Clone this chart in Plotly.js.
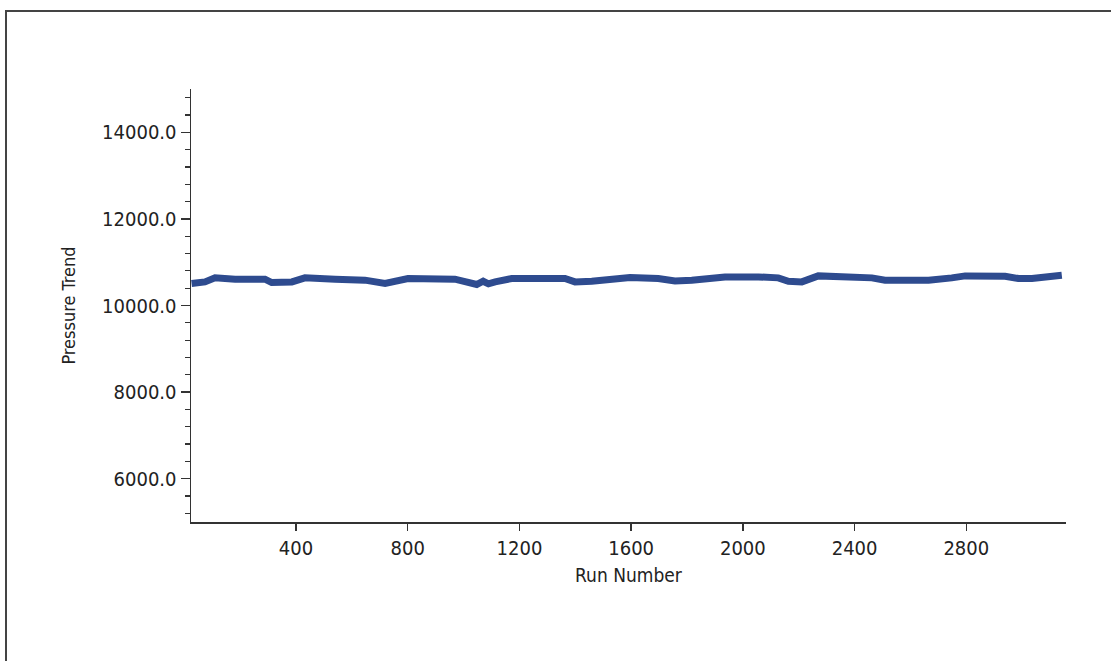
<!DOCTYPE html>
<html>
<head>
<meta charset="utf-8">
<script src="https://cdn.plot.ly/plotly-3.0.1.min.js"></script>
<style>
  html, body { margin: 0; padding: 0; background: #fff; overflow: hidden; }
  #frame { position: absolute; left: 5px; top: 10px; width: 2000px; height: 2000px; border: 2px solid #444; box-sizing: border-box; }
  #chart { position: absolute; left: 0; top: 0; width: 1111px; height: 661px; }
</style>
</head>
<body>
<div id="frame"></div>
<div id="chart"></div>
<script>
// Data
const runs = [26, 74, 110, 182, 289, 313, 385, 432, 540, 647, 719, 765, 801, 969, 1029, 1047, 1070, 1089, 1113, 1172, 1363, 1399, 1459, 1530, 1596, 1697, 1757, 1817, 1889, 1936, 2056, 2127, 2163, 2211, 2270, 2375, 2462, 2509, 2569, 2605, 2653, 2665, 2748, 2796, 2939, 2987, 3035, 3106, 3142];
const pressure = [10508, 10545, 10638, 10608, 10608, 10530, 10545, 10638, 10608, 10585, 10508, 10585, 10623, 10608, 10530, 10485, 10560, 10500, 10545, 10623, 10623, 10545, 10560, 10623, 10647, 10623, 10568, 10585, 10623, 10660, 10660, 10638, 10560, 10545, 10684, 10670, 10638, 10585, 10585, 10623, 10623, 10585, 10638, 10684, 10677, 10623, 10623, 10660, 10700];
const yTicks = [6000, 8000, 10000, 12000, 14000];
const xTicks = [400, 800, 1200, 1600, 2000, 2400, 2800];

const FONT = '"DejaVu Sans Condensed", "Liberation Sans Narrow", "Liberation Sans", sans-serif';
const INK = '#222';

const trace = {
  x: runs,
  y: pressure,
  type: 'scatter',
  mode: 'lines',
  line: { color: '#2e4b8f', width: 7 },
  hoverinfo: 'x+y'
};

const layout = {
  width: 1111,
  height: 661,
  paper_bgcolor: 'rgba(0,0,0,0)',
  plot_bgcolor: 'rgba(0,0,0,0)',
  margin: { l: 191, r: 45, t: 89, b: 139 },
  showlegend: false,
  font: { family: FONT, color: INK },
  xaxis: {
    range: [24, 3157],
    tickvals: xTicks,
    ticktext: xTicks.map(String),
    ticks: 'outside',
    ticklen: 7,
    tickwidth: 1.5,
    tickcolor: '#333',
    showline: true,
    linecolor: '#333',
    linewidth: 1.5,
    showgrid: false,
    zeroline: false,
    tickfont: { family: FONT, size: 20, color: INK },
    title: { text: 'Run Number', font: { family: FONT, size: 19, color: INK }, standoff: 10 }
  },
  yaxis: {
    range: [5000, 15000],
    tickvals: yTicks,
    ticktext: yTicks.map(v => v.toFixed(1)),
    ticks: 'outside',
    ticklen: 9,
    tickwidth: 1.5,
    tickcolor: '#333',
    minor: { dtick: 400, tick0: 6000, ticks: 'outside', ticklen: 5, tickwidth: 1.2, tickcolor: '#333', showgrid: false },
    showline: true,
    linecolor: '#333',
    linewidth: 1.5,
    showgrid: false,
    zeroline: false,
    tickfont: { family: FONT, size: 20, color: INK },
    title: { text: 'Pressure Trend', font: { family: FONT, size: 18, color: INK }, standoff: 22 }
  }
};

Plotly.newPlot('chart', [trace], layout, { displayModeBar: false, staticPlot: true });
</script>
</body>
</html>
